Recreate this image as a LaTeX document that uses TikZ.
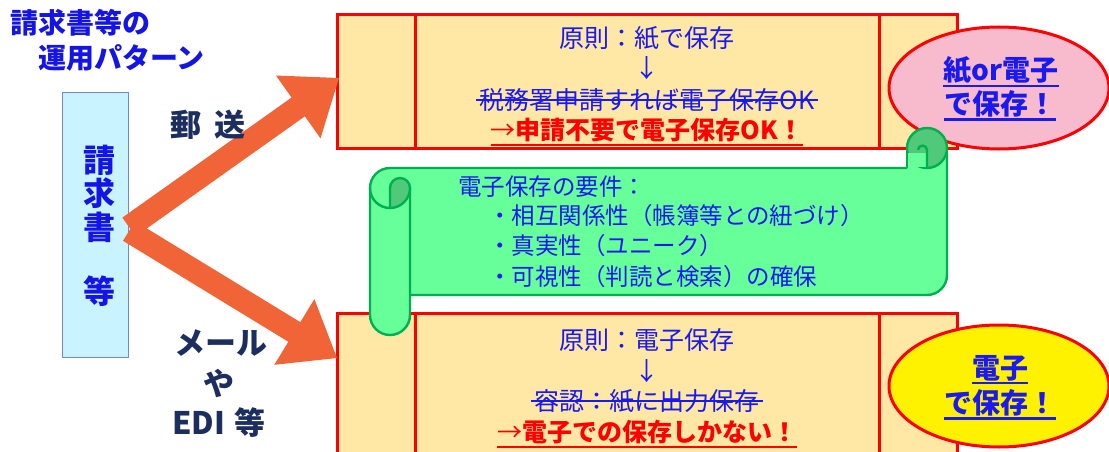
\documentclass[tikz,border=0pt]{standalone}
\usepackage{fontspec}
\setmainfont{Noto Sans CJK JP}
\usetikzlibrary{calc,shapes.geometric}
\definecolor{titleblue}{RGB}{20,20,230}
\definecolor{txtblue}{RGB}{25,25,240}
\definecolor{navy}{RGB}{28,45,95}
\definecolor{arroworange}{RGB}{240,100,55}
\definecolor{boxfill}{RGB}{255,231,165}
\definecolor{docfill}{RGB}{200,243,255}
\definecolor{docborder}{RGB}{115,135,215}
\definecolor{pinkfill}{RGB}{248,187,206}
\definecolor{scrollfill}{RGB}{102,255,153}
\definecolor{scrolldark}{RGB}{80,202,122}
\definecolor{scrollline}{RGB}{0,176,80}
\newcommand{\fsz}[1]{\fontsize{#1pt}{#1pt}\selectfont}
\newcommand{\fatarrow}[2]{%
  \coordinate (#2hb) at ($(#2)!50pt!(#1)$);
  \fill[arroworange] ($(#1)!11.5pt!90:(#2)$) -- ($(#2hb)!11.5pt!90:(#2)$)
    -- ($(#2hb)!38.5pt!90:(#2)$) -- (#2) -- ($(#2hb)!38.5pt!-90:(#2)$)
    -- ($(#2hb)!11.5pt!-90:(#2)$) -- ($(#1)!11.5pt!-90:(#2)$) -- cycle;}
\begin{document}
\begin{tikzpicture}[x=1pt,y=-1pt,
  frame/.style={draw=red, line width=3pt, fill=boxfill},
  strip/.style={draw=red, line width=3pt},
  bubble/.style={ellipse, draw=red, line width=3pt, minimum width=220pt, minimum height=122pt},
  sline/.style={draw=scrollline, line width=2.4pt, line join=round},
  txt/.style={inner sep=0pt, text=txtblue, font=\fsz{25}},
  redtxt/.style={inner sep=0pt, text=red, font=\fsz{25}\bfseries},
  scrtxt/.style={inner sep=0pt, text=txtblue, font=\fsz{23.5}, anchor=west},
  bubtxt/.style={inner sep=0pt, text=txtblue, font=\fsz{28}\bfseries},
  title/.style={inner sep=0pt, text=titleblue, font=\fsz{28}\bfseries, anchor=west},
  doctxt/.style={inner sep=0pt, text=titleblue, font=\fsz{32}\bfseries},
  navytxt/.style={inner sep=0pt, text=navy, font=\fsz{31}\bfseries},
  strike/.style={draw=txtblue, line width=2pt},
  redline/.style={draw=red, line width=2.4pt},
  blueline/.style={draw=txtblue, line width=2.2pt}
]
\useasboundingbox (0,0) rectangle (1109,452);

% boxes
\draw[frame] (337,15) rectangle (957,148);
\draw[strip] (415,15) -- (415,148);
\draw[strip] (879,15) -- (879,148);
\draw[frame] (337,313) rectangle (957,470);
\draw[strip] (415,313) -- (415,470);
\draw[strip] (879,313) -- (879,470);

% bubbles
\node[bubble, fill=pinkfill] (pink) at (999,88) {};
\node[bubble, fill=yellow] (yel) at (999,386) {};

% scroll
\fill[scrollfill] (370,188) arc[start angle=180,end angle=270,radius=20] -- (907,168) -- (907,148) -- (947,148) -- (947,275) arc[start angle=0,end angle=90,radius=20] -- (410,295) -- (410,188) -- cycle;
\draw[sline] (370,188) arc[start angle=180,end angle=270,radius=20] -- (907,168);
\draw[sline] (947,148) -- (947,275) arc[start angle=0,end angle=90,radius=20] -- (410,295);
\draw[sline, fill=scrolldark] (927,148) circle[radius=20];
\fill[scrollfill] (908.3,153) rectangle (927,166.8);
\draw[sline] (907,148) -- (907,168);
\draw[sline] (927,168) -- (927,150) arc[start angle=0,end angle=-180,radius=4.5];
\draw[sline, fill=scrollfill] (370,188) -- (370,315) arc[start angle=180,end angle=0,radius=20] -- (410,188);
\draw[sline, fill=scrolldark] (410,188) arc[start angle=0,end angle=90,radius=20] -- (390,188) arc[start angle=180,end angle=360,radius=10] -- cycle;
\draw[sline] (370,188) arc[start angle=180,end angle=90,radius=20];

% document box
\node[draw=docborder, line width=1pt, fill=docfill, minimum width=66pt, minimum height=264pt, inner sep=0pt] (doc) at (95,225) {};

% arrows
\coordinate (s1) at (129,227);
\coordinate (t1) at (339,78);
\coordinate (s2) at (129,231);
\coordinate (t2) at (337,358);
\fatarrow{s1}{t1}
\fatarrow{s2}{t2}

% title
\node[title] (ti1) at (10,23) {請求書等の};
\node[title] (ti2) at (38,58) {運用パターン};

% document text
\node[doctxt] (d1) at (99,160) {請};
\node[doctxt] (d2) at (99,193) {求};
\node[doctxt] (d3) at (99,227) {書};
\node[doctxt] (d4) at (99,291) {等};

% arrow labels
\node[navytxt] (l1) at (208,125) {郵\hspace{13pt}送};
\node[navytxt] (l2) at (221,343) {メール};
\node[navytxt] (l3) at (219,383) {や};
\node[navytxt] (l4) at (219,423) {EDI\hspace{10pt}等};

% top box text
\node[txt] (a1) at (647,38) {原則：紙で保存};
\node[txt] (a2) at (647,68) {↓};
\node[txt] (a3) at (647,100) {税務署申請すれば電子保存OK};
\draw[strike] ($(a3.west)+(-3,0)$) -- ($(a3.east)+(3,0)$);
\node[redtxt] (a4) at (647,130) {{\mdseries →}申請不要で電子保存OK！};
\draw[redline] ($(a4.south west)+(0,3)$) -- ($(a4.south east)+(0,3)$);

% bottom box text
\node[txt] (b1) at (647,340) {原則：電子保存};
\node[txt] (b2) at (647,371) {↓};
\node[txt] (b3) at (647,401) {容認：紙に出力保存};
\draw[strike] ($(b3.west)+(-3,0)$) -- ($(b3.east)+(3,0)$);
\node[redtxt] (b4) at (647,432) {{\mdseries →}電子での保存しかない！};
\draw[redline] ($(b4.south west)+(0,3)$) -- ($(b4.south east)+(0,3)$);

% scroll text
\node[scrtxt] (c1) at (458,187) {電子保存の要件：};
\node[scrtxt] (c2) at (488,216) {・相互関係性（帳簿等との紐づけ）};
\node[scrtxt] (c3) at (488,246) {・真実性（ユニーク）};
\node[scrtxt] (c4) at (488,277) {・可視性（判読と検索）の確保};

% bubble text
\node[bubtxt] (p1) at (1001,70) {紙or電子};
\draw[blueline] ($(p1.south west)+(0,2)$) -- ($(p1.south east)+(0,2)$);
\node[bubtxt] (p2) at (1000,104) {で保存！};
\draw[blueline] ($(p2.south west)+(0,2)$) -- ($(p2.south east)+(0,2)$);
\node[bubtxt] (y1) at (1000,368) {電子};
\draw[blueline] ($(y1.south west)+(0,2)$) -- ($(y1.south east)+(0,2)$);
\node[bubtxt] (y2) at (1000,403) {で保存！};
\draw[blueline] ($(y2.south west)+(0,2)$) -- ($(y2.south east)+(0,2)$);
\end{tikzpicture}
\end{document}
